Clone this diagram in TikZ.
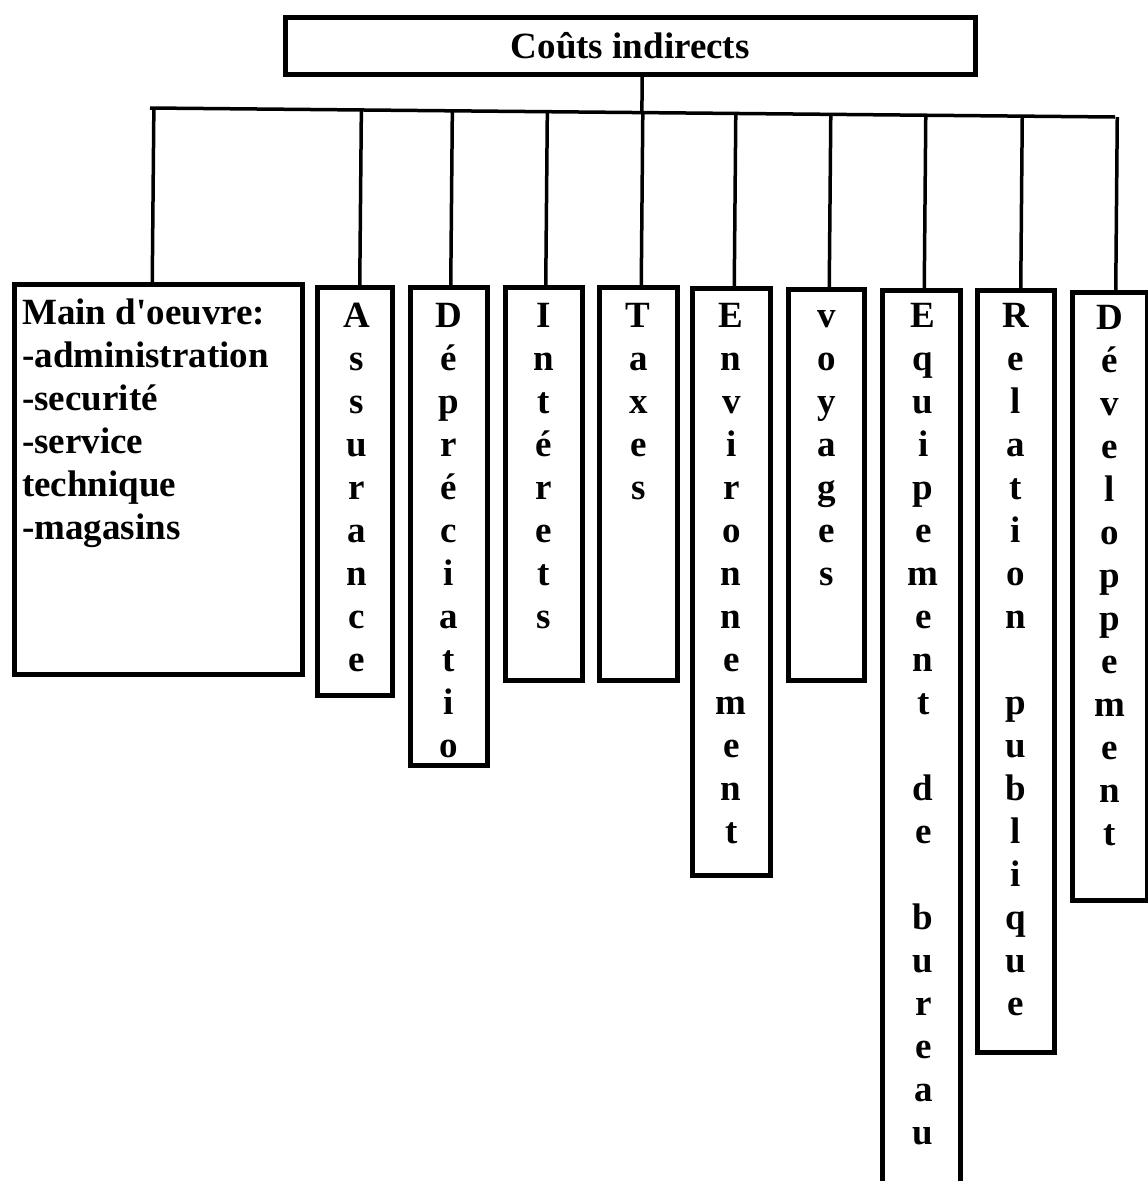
\documentclass[tikz,border=0pt]{standalone}
\usepackage{fontspec}
\setmainfont{Liberation Serif}
\usetikzlibrary{calc}
\begin{document}
\begin{tikzpicture}[x=1pt,y=-1pt,
  box/.style={draw,line width=4.5pt,rectangle,inner sep=0pt,anchor=north west},
  wire/.style={line width=3.5pt},
  lbl/.style={font=\fontsize{37}{43}\selectfont\bfseries,inner sep=0pt},
  col/.style={lbl,align=center,anchor=north},
]
\useasboundingbox (0,0) rectangle (1148,1181);
\clip (0,0) rectangle (1148,1181);

% header
\node[box,minimum width=690pt,minimum height=57pt] (top) at (283,15) {};
\node[lbl] (toptxt) at (top.center) {Coûts indirects};

% category boxes
\node[box,minimum width=288pt,minimum height=390pt] (main) at (12,282) {};
\node[box,minimum width=75pt,minimum height=408pt] (ass) at (315,285) {};
\node[box,minimum width=77pt,minimum height=478pt] (dep) at (408,285) {};
\node[box,minimum width=77pt,minimum height=393pt] (int) at (503,285) {};
\node[box,minimum width=78pt,minimum height=393pt] (tax) at (597,285) {};
\node[box,minimum width=78pt,minimum height=587pt] (env) at (690,286) {};
\node[box,minimum width=76pt,minimum height=391pt] (voy) at (786,287) {};
\node[box,minimum width=78pt,minimum height=930pt] (equ) at (880,288) {};
\node[box,minimum width=77pt,minimum height=762pt] (rel) at (975,288) {};
\node[box,minimum width=75pt,minimum height=608pt] (dev) at (1070,290) {};

% labels
\node[lbl,align=left,anchor=north west] (maintxt) at ($(main.north west)+(10,12)$)
  {\strut Main d\textquotesingle oeuvre:\\-administration\\-securité\\-service\\technique\\-magasins};
\node[col] (asstxt) at ($(ass.north)+(2,12)$) {\strut A\\s\\s\\u\\r\\a\\n\\c\\e};
\node[col] (deptxt) at ($(dep.north)+(0,12)$) {\strut D\\é\\p\\r\\é\\c\\i\\a\\t\\i\\o};
\node[col] (inttxt) at ($(int.north)+(0,12)$) {\strut I\\n\\t\\é\\r\\e\\t\\s};
\node[col] (taxtxt) at ($(tax.north)+(0,12)$) {\strut T\\a\\x\\e\\s};
\node[col] (envtxt) at ($(env.north)+(0,11)$) {\strut E\\n\\v\\i\\r\\o\\n\\n\\e\\m\\e\\n\\t};
\node[col] (voytxt) at ($(voy.north)+(0,10)$) {\strut v\\o\\y\\a\\g\\e\\s};
\node[col] (equtxt) at ($(equ.north)+(2,9)$) {\strut E\\q\\u\\i\\p\\e\\m\\e\\n\\t\\ \\d\\e\\ \\b\\u\\r\\e\\a\\u};
\node[col] (reltxt) at ($(rel.north)+(0,9)$) {\strut R\\e\\l\\a\\t\\i\\o\\n\\ \\p\\u\\b\\l\\i\\q\\u\\e};
\node[col] (devtxt) at ($(dev.north)+(0,9)$) {\strut D\\é\\v\\e\\l\\o\\p\\p\\e\\m\\e\\n\\t};

% distribution bus
\coordinate (L) at (150,108);
\coordinate (R) at (1115,117);
\draw[wire] (L) -- (R);
\draw[wire] ($(top.south)+(12,0)$) coordinate (s) -- ($(L)!(s)!(R)$);
\foreach \n/\dx in {main/-6,ass/5,dep/2,int/2,tax/3,env/3,voy/3,equ/3,rel/5,dev/6}{
  \draw[wire] ($(\n.north)+(\dx,0)$) coordinate (d) -- ($(L)!(d)!(R)$);
}
\end{tikzpicture}
\end{document}
